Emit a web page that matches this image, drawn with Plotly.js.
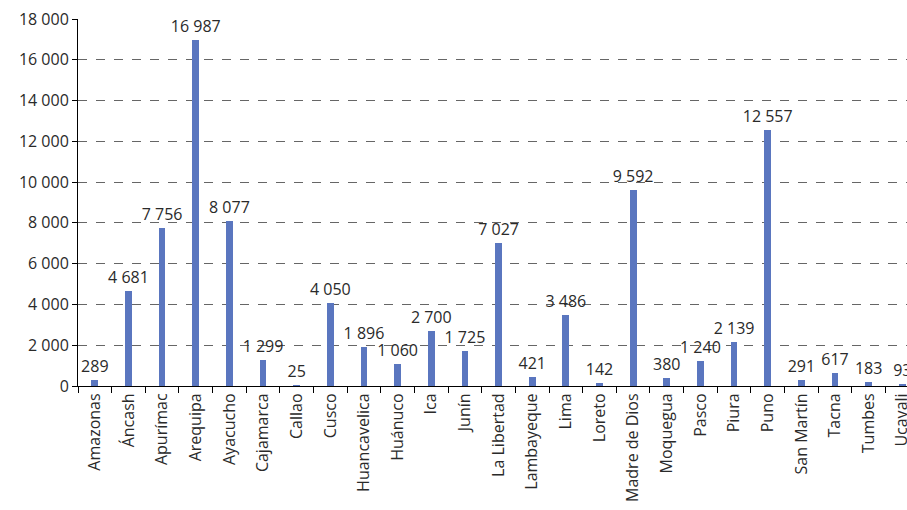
<!DOCTYPE html>
<html>
<head>
<meta charset="utf-8">
<script src="https://cdn.plot.ly/plotly-3.0.1.min.js"></script>
<style>
  html, body { margin: 0; padding: 0; background: #fff; }
  #chart { width: 907px; height: 510px; }
</style>
</head>
<body>
<div id="chart"></div>
<script>
// Regions of Peru and their values
const regions = [
  "Amazonas", "Áncash", "Apurímac", "Arequipa", "Ayacucho", "Cajamarca",
  "Callao", "Cusco", "Huancavelica", "Huánuco", "Ica", "Junín",
  "La Libertad", "Lambayeque", "Lima", "Loreto", "Madre de Dios",
  "Moquegua", "Pasco", "Piura", "Puno", "San Martín", "Tacna",
  "Tumbes", "Ucayali"
];
const values = [
  289, 4681, 7756, 16987, 8077, 1299,
  25, 4050, 1896, 1060, 2700, 1725,
  7027, 421, 3486, 142, 9592,
  380, 1240, 2139, 12557, 291, 617,
  183, 93
];
const yTicks = [0, 2000, 4000, 6000, 8000, 10000, 12000, 14000, 16000, 18000];

const trace = {
  type: "bar",
  x: regions,
  y: values,
  width: 0.2,
  marker: { color: "#5a76bf" },
  texttemplate: "%{y:,}",
  textposition: "outside",
  constraintext: "none",
  cliponaxis: false,
  textfont: { family: "'Open Sans', sans-serif", size: 16, color: "#2a2a2a" },
  hoverinfo: "x+y"
};

const layout = {
  width: 907,
  height: 510,
  margin: { l: 78, r: 0, t: 19, b: 124 },
  paper_bgcolor: "#fff",
  plot_bgcolor: "#fff",
  separators: ", ",
  showlegend: false,
  bargap: 0,
  font: { family: "'Open Sans', sans-serif", color: "#2a2a2a" },
  xaxis: {
    type: "category",
    range: [-0.5, 24.14],
    tickangle: -90,
    tickson: "boundaries",
    ticks: "outside",
    ticklen: 6,
    tickcolor: "#000",
    showline: true,
    linecolor: "#000",
    linewidth: 1,
    showgrid: false,
    tickfont: { size: 16, color: "#2a2a2a" }
  },
  yaxis: {
    range: [0, 18000],
    tickvals: yTicks,
    ticktext: yTicks.map(v => v >= 1000 ? Math.floor(v / 1000) + " 000" : String(v)),
    ticks: "outside",
    ticklen: 5,
    tickcolor: "#000",
    showline: true,
    linecolor: "#000",
    linewidth: 1,
    showgrid: true,
    gridcolor: "#666",
    griddash: "dash",
    gridwidth: 1,
    zeroline: false,
    tickfont: { size: 16, color: "#2a2a2a" }
  }
};

Plotly.newPlot("chart", [trace], layout, { displayModeBar: false, staticPlot: true });
</script>
</body>
</html>
